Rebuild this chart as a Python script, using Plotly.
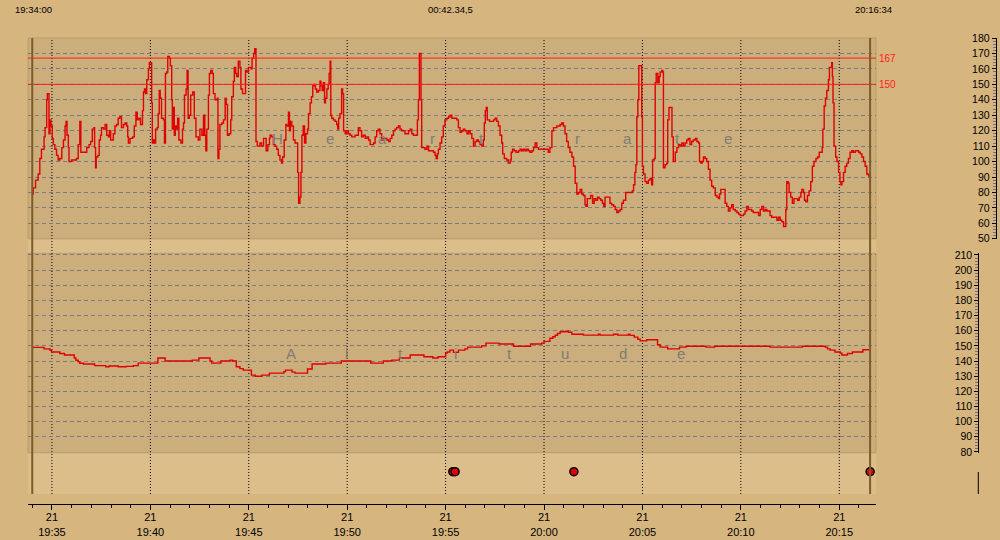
import plotly.graph_objects as go
import pandas as pd

# ---------------- data ----------------
start_label = "19:34:00"
duration_label = "00:42.34,5"
end_label = "20:16:34"
day_label = "21"
BASE = pd.Timestamp("2010-06-21 19:34:00")

# heart rate: seconds since 19:34:00 / bpm
hr_sec = [
    0, 3, 10, 18, 23, 28, 36, 39, 44, 46,
    51, 54, 57, 61, 64, 69, 74, 79, 84, 90,
    95, 100, 103, 106, 110, 112, 115, 120, 125, 135,
    140, 145, 148, 161, 166, 173, 178, 183, 188, 190,
    193, 195, 200, 204, 208, 211, 217, 222, 227, 232,
    235, 239, 244, 247, 252, 257, 262, 267, 272, 278,
    283, 288, 291, 293, 298, 306, 311, 316, 320, 325,
    330, 336, 339, 342, 345, 349, 354, 357, 362, 364,
    366, 369, 372, 376, 381, 384, 387, 390, 394, 400,
    403, 406, 410, 413, 418, 421, 425, 427, 430, 433,
    436, 440, 443, 447, 453, 458, 461, 464, 469, 472,
    475, 479, 483, 489, 494, 499, 506, 511, 517, 522,
    526, 529, 532, 537, 540, 544, 549, 552, 557, 564,
    566, 569, 572, 578, 583, 588, 591, 595, 600, 605,
    608, 613, 616, 620, 623, 628, 633, 636, 641, 646,
    650, 654, 659, 664, 667, 670, 675, 678, 680, 682,
    686, 694, 699, 705, 710, 713, 718, 723, 725, 730,
    735, 740, 745, 750, 755, 760, 763, 768, 773, 776,
    781, 784, 787, 791, 796, 801, 806, 809, 812, 816,
    819, 822, 826, 830, 834, 839, 842, 847, 851, 855,
    859, 863, 867, 872, 877, 880, 884, 887, 891, 894,
    898, 902, 905, 908, 910, 913, 918, 923, 928, 931,
    934, 938, 943, 946, 949, 954, 959, 964, 969, 974,
    979, 984, 989, 994, 999, 1004, 1009, 1015, 1020, 1025,
    1030, 1035, 1040, 1045, 1050, 1055, 1060, 1065, 1070, 1075,
    1081, 1086, 1091, 1096, 1101, 1106, 1111, 1116, 1121, 1126,
    1131, 1136, 1142, 1147, 1152, 1157, 1162, 1167, 1172, 1174,
    1177, 1180, 1183, 1185, 1187, 1192, 1197, 1203, 1208, 1213,
    1218, 1223, 1228, 1231, 1235, 1238, 1243, 1248, 1253, 1258,
    1264, 1269, 1274, 1279, 1284, 1289, 1294, 1299, 1304, 1309,
    1314, 1319, 1325, 1330, 1335, 1340, 1345, 1350, 1355, 1360,
    1365, 1370, 1375, 1378, 1381, 1384, 1387, 1394, 1401, 1406,
    1411, 1416, 1421, 1426, 1431, 1434, 1439, 1446, 1451, 1457,
    1460, 1464, 1469, 1475, 1482, 1487, 1492, 1497, 1502, 1507,
    1512, 1517, 1523, 1528, 1533, 1538, 1543, 1548, 1558, 1568,
    1573, 1578, 1584, 1589, 1594, 1599, 1604, 1609, 1614, 1619,
    1624, 1629, 1634, 1639, 1645, 1650, 1655, 1660, 1665, 1670,
    1675, 1680, 1685, 1688, 1692, 1697, 1702, 1708, 1713, 1718,
    1723, 1728, 1733, 1738, 1742, 1746, 1751, 1756, 1761, 1766,
    1772, 1777, 1782, 1787, 1792, 1797, 1802, 1809, 1817, 1824,
    1829, 1833, 1837, 1840, 1843, 1846, 1849, 1853, 1855, 1858,
    1860, 1863, 1868, 1873, 1878, 1883, 1888, 1891, 1896, 1899,
    1902, 1907, 1911, 1914, 1919, 1922, 1924, 1929, 1934, 1937,
    1941, 1947, 1950, 1954, 1960, 1965, 1970, 1975, 1980, 1985,
    1990, 1995, 2000, 2005, 2010, 2015, 2021, 2026, 2031, 2034,
    2038, 2042, 2046, 2051, 2056, 2061, 2066, 2071, 2076, 2082,
    2087, 2092, 2095, 2099, 2107, 2112, 2117, 2122, 2127, 2132,
    2137, 2143, 2148, 2153, 2158, 2163, 2168, 2173, 2178, 2183,
    2188, 2193, 2198, 2209, 2214, 2219, 2224, 2229, 2234, 2239,
    2244, 2249, 2254, 2259, 2265, 2270, 2275, 2280, 2285, 2290,
    2294, 2297, 2300, 2304, 2307, 2312, 2317, 2322, 2328, 2333,
    2338, 2343, 2346, 2351, 2354, 2358, 2363, 2368, 2373, 2378,
    2383, 2389, 2394, 2399, 2404, 2408, 2410, 2414, 2418, 2422,
    2427, 2430, 2434, 2437, 2439, 2441, 2444, 2449, 2453, 2458,
    2462, 2465, 2468, 2473, 2478, 2483, 2488, 2493, 2498, 2503,
    2509, 2514, 2519, 2524, 2529, 2534, 2539, 2544, 2549, 2551,
    2554,
]
hr_bpm = [
    79, 83, 88, 92, 102, 108, 116, 122, 140, 144,
    118, 127, 123, 115, 111, 108, 104, 101, 102, 109,
    114, 123, 126, 117, 109, 100, 100, 101, 101, 102,
    111, 126, 106, 106, 109, 111, 113, 121, 122, 109,
    96, 103, 104, 114, 117, 122, 121, 124, 117, 116,
    120, 114, 114, 118, 123, 124, 128, 129, 122, 124,
    125, 123, 116, 112, 115, 116, 123, 132, 127, 128,
    124, 133, 145, 147, 144, 153, 160, 164, 164, 138,
    112, 114, 112, 121, 122, 131, 146, 141, 128, 127,
    112, 157, 158, 168, 167, 162, 140, 121, 135, 117,
    123, 121, 128, 114, 112, 121, 125, 143, 147, 159,
    128, 130, 143, 145, 128, 116, 114, 121, 117, 130,
    117, 107, 121, 143, 157, 159, 157, 144, 140, 141,
    102, 108, 124, 125, 127, 141, 137, 117, 118, 127,
    142, 152, 161, 157, 155, 165, 161, 147, 144, 144,
    159, 158, 161, 161, 160, 167, 170, 173, 173, 113,
    110, 112, 110, 115, 115, 107, 111, 115, 117, 116,
    111, 110, 108, 104, 101, 99, 103, 114, 124, 123,
    132, 120, 126, 123, 114, 112, 112, 93, 73, 77,
    93, 117, 123, 112, 118, 121, 131, 138, 142, 149,
    150, 147, 145, 146, 152, 149, 146, 151, 138, 141,
    147, 150, 157, 165, 130, 128, 127, 126, 124, 121,
    128, 131, 147, 144, 120, 118, 120, 118, 117, 116,
    116, 117, 117, 122, 120, 116, 117, 115, 116, 114,
    111, 111, 112, 116, 120, 121, 118, 114, 115, 115,
    114, 113, 115, 117, 120, 121, 122, 123, 121, 120,
    120, 118, 118, 120, 121, 118, 117, 117, 117, 127,
    140, 170, 170, 140, 109, 109, 108, 110, 107, 107,
    107, 106, 104, 102, 105, 108, 112, 116, 123, 127,
    128, 129, 130, 128, 128, 128, 127, 122, 119, 120,
    121, 120, 118, 120, 118, 115, 110, 113, 114, 113,
    111, 110, 114, 125, 133, 135, 127, 126, 126, 127,
    128, 126, 123, 117, 112, 105, 102, 101, 99, 101,
    106, 108, 107, 106, 107, 108, 107, 108, 107, 108,
    107, 106, 107, 109, 112, 109, 108, 108, 108, 108,
    106, 109, 120, 122, 122, 123, 123, 124, 125, 123,
    118, 113, 109, 106, 103, 97, 86, 79, 80, 82,
    79, 78, 72, 71, 76, 76, 78, 73, 76, 75,
    77, 76, 75, 73, 71, 77, 77, 77, 73, 72,
    71, 69, 67, 68, 69, 73, 75, 80, 80, 80,
    81, 85, 93, 98, 129, 140, 162, 162, 162, 129,
    97, 92, 87, 86, 88, 89, 85, 101, 102, 151,
    157, 151, 155, 158, 159, 158, 96, 98, 99, 127,
    135, 135, 116, 100, 106, 109, 111, 110, 112, 110,
    112, 114, 115, 111, 113, 114, 115, 113, 112, 100,
    99, 100, 103, 102, 100, 95, 88, 84, 83, 78,
    77, 76, 79, 82, 82, 73, 71, 68, 70, 72,
    69, 68, 67, 66, 65, 65, 66, 68, 71, 69,
    69, 68, 67, 67, 65, 69, 71, 68, 69, 68,
    68, 65, 64, 64, 64, 62, 64, 62, 61, 58,
    58, 69, 87, 86, 80, 77, 73, 76, 76, 75,
    77, 80, 82, 80, 75, 74, 78, 81, 87, 97,
    100, 102, 103, 106, 106, 109, 121, 136, 141, 146,
    153, 161, 161, 164, 155, 138, 110, 103, 100, 93,
    87, 85, 87, 93, 97, 99, 102, 106, 107, 106,
    107, 107, 106, 105, 103, 100, 97, 92, 91, 90,
    86,
]

# altitude: seconds since 19:34:00 / metres
alt_sec = [
    0, 36, 54, 59, 84, 98, 128, 133, 140, 145,
    156, 190, 224, 234, 262, 286, 308, 323, 383, 405,
    488, 508, 542, 547, 575, 603, 611, 622, 633, 643,
    668, 680, 700, 723, 767, 772, 792, 801, 839, 853,
    895, 942, 1032, 1070, 1096, 1119, 1152, 1194, 1221, 1237,
    1260, 1265, 1273, 1284, 1299, 1319, 1327, 1370, 1383, 1423,
    1467, 1519, 1553, 1560, 1578, 1587, 1594, 1601, 1609, 1627,
    1634, 1645, 1680, 1726, 1731, 1772, 1785, 1817, 1822, 1835,
    1846, 1853, 1873, 1906, 1914, 1937, 1973, 1993, 2054, 2080,
    2249, 2348, 2417, 2424, 2432, 2447, 2463, 2468, 2485, 2500,
    2532, 2554,
]
alt_m = [
    149, 148, 147, 146, 145, 144, 142, 140.5, 139.5, 138.5,
    138, 137, 136.2, 136.7, 136.2, 136.5, 137, 138.6, 142, 140,
    140.6, 142, 140, 138.6, 140, 140.6, 140, 136.2, 135, 134,
    130.7, 130, 130.7, 132, 133, 134, 132.7, 132, 134.7, 138,
    138.6, 140, 138.6, 140, 140.6, 142, 144, 142.8, 142, 142.8,
    145.2, 146, 147.2, 145.7, 147.2, 148, 149.2, 150, 151.8, 151.2,
    149.8, 151.2, 151.8, 153, 155, 156, 157, 158.2, 159.3, 159.7,
    159, 157.7, 157.1, 157.7, 157.1, 157.7, 157.1, 157.7, 156.9, 155.8,
    154.4, 153.3, 154, 150.7, 149.2, 148, 149.2, 149.8, 149.2, 149.8,
    149.2, 149.8, 149.2, 148, 147.2, 146, 145.2, 144, 145, 146,
    147.4, 147.4,
]

# lap / event markers (seconds since start)
event_sec = [1282, 1289, 1651, 2554]
event_row = 0.5

# HR limits
hr_limits = [167, 150]

# x ticks
tick_times = ["19:35", "19:40", "19:45", "19:50", "19:55",
              "20:00", "20:05", "20:10", "20:15"]

hr_title = "Heart rate"
alt_title = "Altitude"

# ---------------- style ----------------
OUTER = "#D6B67E"
LIGHT = "#DCBE8A"
PANEL = "#CCAE7C"
RED = "#E00000"
FONT = "Liberation Sans, Arial, sans-serif"

W, H = 1000, 540
ML, MR, MT, MB = 28, 0, 38, 36
PW, PH = W - ML - MR, H - MT - MB


def px_x(px):
    return (px - ML) / PW


def px_y(py):
    return (H - MB - py) / PH


def ts(sec):
    return BASE + pd.Timedelta(seconds=sec)


day0 = BASE.strftime("%Y-%m-%d")
tick_vals = [pd.Timestamp(f"{day0} {t}:00") for t in tick_times]
tick_text = [f"{day_label}<br>{t}" for t in tick_times]

fig = go.Figure()
fig.add_trace(go.Scatter(
    x=[ts(s) for s in hr_sec], y=hr_bpm, mode="lines",
    line=dict(color=RED, width=1.4, shape="hv"),
    xaxis="x", yaxis="y", showlegend=False, hoverinfo="skip"))
fig.add_trace(go.Scatter(
    x=[ts(s) for s in alt_sec], y=alt_m, mode="lines",
    line=dict(color=RED, width=1.4, shape="hv"),
    xaxis="x", yaxis="y2", showlegend=False, hoverinfo="skip"))
fig.add_trace(go.Scatter(
    x=[ts(s) for s in event_sec], y=[event_row] * len(event_sec),
    mode="markers",
    marker=dict(color=RED, size=8, line=dict(color="black", width=1.5)),
    xaxis="x", yaxis="y3", showlegend=False, hoverinfo="skip"))

x_dom_end = (876 - ML) / PW
band_bottom = px_y(494)

shapes = []
shapes.append(dict(type="rect", xref="x domain", yref="paper", x0=0, x1=1,
                   y0=band_bottom, y1=1, fillcolor=LIGHT,
                   line=dict(width=0), layer="below"))
for yr in ["y domain", "y2 domain"]:
    shapes.append(dict(type="rect", xref="x domain", yref=yr, x0=0, x1=1,
                       y0=0, y1=1, fillcolor=PANEL,
                       line=dict(color="#B79C6C", width=1), layer="below"))
for tv in tick_vals:
    shapes.append(dict(type="line", xref="x", yref="paper", x0=tv, x1=tv,
                       y0=band_bottom, y1=1,
                       line=dict(color="black", width=1, dash="1px,2px"),
                       layer="below"))
for lim in hr_limits:
    shapes.append(dict(type="line", xref="x domain", yref="y", x0=0, x1=1,
                       y0=lim, y1=lim, line=dict(color="#FF1A1A", width=1),
                       layer="above"))
for s in [0, hr_sec[-1]]:
    shapes.append(dict(type="line", xref="x", yref="paper", x0=ts(s), x1=ts(s),
                       y0=band_bottom, y1=1,
                       line=dict(color="#7E5C28", width=2), layer="above"))
shapes.append(dict(type="line", xref="paper", yref="paper",
                   x0=px_x(978.3), x1=px_x(978.3), y0=band_bottom, y1=px_y(472),
                   line=dict(color="black", width=1)))

annotations = []
hdr_font = dict(family=FONT, size=9.5, color="black")
annotations.append(dict(text=start_label, xref="paper", yref="paper",
                        x=px_x(13), y=px_y(10), xanchor="left", yanchor="middle",
                        showarrow=False, font=hdr_font))
annotations.append(dict(text=duration_label, xref="paper", yref="paper",
                        x=px_x(450), y=px_y(10), xanchor="center", yanchor="middle",
                        showarrow=False, font=hdr_font))
annotations.append(dict(text=end_label, xref="paper", yref="paper",
                        x=px_x(853), y=px_y(10), xanchor="left", yanchor="middle",
                        showarrow=False, font=hdr_font))
for lim in hr_limits:
    annotations.append(dict(text=str(lim), xref="x domain", yref="y",
                            x=1, y=lim, xanchor="left", yanchor="middle",
                            xshift=1, showarrow=False,
                            font=dict(family=FONT, size=10, color="#FF1A1A")))

wm_font = dict(family=FONT, size=15, color="#7E7C78")
hr_letter_px = [277.7, 330, 382, 432, 481, 577, 627.7, 677.7, 727.7]
for ch, px in zip(hr_title.replace(" ", ""), hr_letter_px):
    annotations.append(dict(text=ch, xref="paper", yref="paper",
                            x=px_x(px), y=px_y(138), xanchor="center",
                            yanchor="middle", showarrow=False, font=wm_font))
alt_letter_px = [290.7, 346.7, 400.7, 455, 509, 565, 623, 680.7]
for ch, px in zip(alt_title, alt_letter_px):
    annotations.append(dict(text=ch, xref="paper", yref="paper",
                            x=px_x(px), y=px_y(353), xanchor="center",
                            yanchor="middle", showarrow=False, font=wm_font))

xtickfont = dict(family=FONT, size=11, color="black")
ytickfont = dict(family=FONT, size=10.5, color="black")
grid = dict(showgrid=True, gridcolor="#7C7C80", griddash="4px,3px", gridwidth=1)

fig.update_layout(
    width=W, height=H,
    margin=dict(l=ML, r=MR, t=MT, b=MB, pad=0),
    paper_bgcolor=OUTER, plot_bgcolor="rgba(0,0,0,0)",
    showlegend=False,
    xaxis=dict(domain=[0, x_dom_end], anchor="y3", type="date",
               range=[ts(-13), ts(2572)],
               tickmode="array", tickvals=tick_vals, ticktext=tick_text,
               ticks="outside", ticklen=5, tickcolor="black", tickwidth=1,
               ticklabelstandoff=-2,
               showline=True, linecolor="black", linewidth=1,
               showgrid=False, zeroline=False, tickfont=xtickfont,
               minor=dict(tick0=ts(0), dtick=60000, ticks="outside",
                          ticklen=3, tickcolor="black", showgrid=False),
               automargin=False, fixedrange=True),
    yaxis=dict(domain=[px_y(238.8), 1.0], range=[50, 180], anchor="free",
               position=px_x(995.7), side="left",
               tickmode="linear", tick0=50, dtick=10,
               ticks="outside", ticklen=4, tickcolor="black",
               showline=True, linecolor="black", linewidth=1,
               zeroline=False, tickfont=ytickfont, automargin=False,
               minor=dict(dtick=2, ticks="outside", ticklen=3,
                          tickcolor="#6E6E8A", showgrid=False),
               **grid),
    yaxis2=dict(domain=[px_y(452.7), px_y(253.3)], range=[79.5, 211.1],
                anchor="free", position=px_x(978.3), side="left",
                tickmode="linear", tick0=80, dtick=10,
                ticks="outside", ticklen=4, tickcolor="black",
                showline=True, linecolor="black", linewidth=1,
                zeroline=False, tickfont=ytickfont, automargin=False,
                minor=dict(dtick=2, ticks="outside", ticklen=3,
                           tickcolor="#6E6E8A", showgrid=False),
                **grid),
    yaxis3=dict(domain=[0, px_y(453.7)], range=[0, 0.779], visible=False,
                showgrid=False, zeroline=False, fixedrange=True),
    shapes=shapes,
    annotations=annotations,
)

fig.write_html(
    "out.html",
    config={"displayModeBar": False},
    post_script="document.body.style.margin='0';document.body.style.padding='0';"
                "document.body.style.overflow='hidden';",
)
